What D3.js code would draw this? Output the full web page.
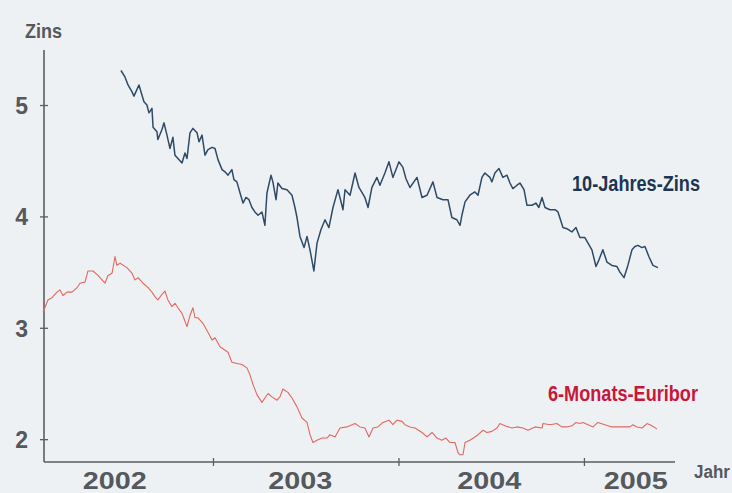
<!DOCTYPE html>
<html>
<head>
<meta charset="utf-8">
<script src="https://cdn.jsdelivr.net/npm/d3@7"></script>
<style>
  html, body { margin: 0; padding: 0; background: #eef1f4; }
  svg { display: block; }
  text { font-family: "Liberation Sans", Arial, sans-serif; font-weight: bold; }
</style>
</head>
<body>
<svg id="chart" width="732" height="493"></svg>
<script>
// ---- data (decimal years, percent) ----
const tenYearDates = [2002.504,2002.526,2002.542,2002.563,2002.574,2002.585,2002.601,2002.617,2002.628,2002.644,2002.655,2002.671,2002.677,2002.698,2002.703,2002.725,2002.736,2002.752,2002.768,2002.784,2002.795,2002.811,2002.833,2002.849,2002.860,2002.876,2002.892,2002.914,2002.925,2002.941,2002.957,2002.973,2002.995,2003.011,2003.027,2003.049,2003.065,2003.081,2003.102,2003.113,2003.129,2003.146,2003.162,2003.178,2003.194,2003.210,2003.226,2003.243,2003.264,2003.280,2003.291,2003.313,2003.323,2003.340,2003.350,2003.372,2003.399,2003.426,2003.442,2003.453,2003.469,2003.491,2003.507,2003.523,2003.544,2003.561,2003.582,2003.604,2003.625,2003.647,2003.674,2003.701,2003.712,2003.739,2003.766,2003.787,2003.819,2003.836,2003.857,2003.884,2003.900,2003.927,2003.949,2003.970,2004.003,2004.024,2004.040,2004.062,2004.100,2004.127,2004.154,2004.186,2004.208,2004.240,2004.267,2004.288,2004.315,2004.332,2004.342,2004.359,2004.385,2004.412,2004.429,2004.450,2004.466,2004.493,2004.504,2004.520,2004.542,2004.563,2004.585,2004.601,2004.617,2004.639,2004.655,2004.677,2004.693,2004.720,2004.741,2004.757,2004.774,2004.790,2004.817,2004.844,2004.860,2004.887,2004.908,2004.935,2004.957,2004.978,2005.005,2005.022,2005.043,2005.065,2005.081,2005.102,2005.124,2005.151,2005.178,2005.194,2005.216,2005.237,2005.259,2005.275,2005.291,2005.313,2005.329,2005.350,2005.372,2005.399];
const tenYearValues = [5.31,5.25,5.18,5.12,5.08,5.12,5.18,5.09,5.03,5.00,4.93,4.97,4.80,4.76,4.69,4.78,4.84,4.73,4.61,4.71,4.55,4.52,4.48,4.57,4.52,4.75,4.79,4.75,4.67,4.73,4.55,4.60,4.62,4.61,4.51,4.42,4.40,4.37,4.42,4.33,4.31,4.21,4.12,4.17,4.15,4.08,4.04,4.01,4.04,3.92,4.21,4.37,4.31,4.15,4.30,4.25,4.24,4.19,4.08,3.99,3.82,3.72,3.82,3.70,3.51,3.76,3.88,3.97,3.90,4.08,4.24,4.06,4.24,4.19,4.39,4.26,4.17,4.08,4.26,4.35,4.28,4.39,4.49,4.35,4.49,4.44,4.34,4.26,4.35,4.17,4.19,4.31,4.17,4.15,4.15,3.99,3.97,3.92,4.01,4.13,4.19,4.22,4.19,4.35,4.39,4.35,4.31,4.39,4.43,4.35,4.37,4.30,4.25,4.28,4.30,4.24,4.10,4.10,4.12,4.08,4.17,4.08,4.06,4.06,4.04,3.90,3.89,3.86,3.90,3.81,3.81,3.76,3.70,3.55,3.61,3.70,3.59,3.56,3.55,3.50,3.45,3.56,3.70,3.73,3.74,3.72,3.73,3.64,3.56,3.54];

const euriborDates = [2002.084,2002.110,2002.132,2002.159,2002.175,2002.191,2002.213,2002.240,2002.267,2002.283,2002.310,2002.326,2002.353,2002.380,2002.418,2002.434,2002.456,2002.472,2002.482,2002.499,2002.536,2002.563,2002.580,2002.596,2002.623,2002.650,2002.671,2002.687,2002.703,2002.730,2002.741,2002.757,2002.779,2002.795,2002.811,2002.833,2002.860,2002.876,2002.892,2002.903,2002.919,2002.946,2002.973,2002.995,2003.011,2003.038,2003.081,2003.102,2003.129,2003.156,2003.183,2003.199,2003.216,2003.237,2003.264,2003.280,2003.297,2003.318,2003.345,2003.361,2003.377,2003.404,2003.426,2003.453,2003.480,2003.507,2003.523,2003.539,2003.561,2003.588,2003.615,2003.631,2003.658,2003.685,2003.722,2003.766,2003.792,2003.819,2003.841,2003.863,2003.889,2003.916,2003.949,2003.970,2003.992,2004.019,2004.035,2004.062,2004.089,2004.127,2004.154,2004.181,2004.208,2004.234,2004.256,2004.278,2004.305,2004.321,2004.332,2004.348,2004.359,2004.385,2004.412,2004.429,2004.456,2004.477,2004.504,2004.531,2004.547,2004.574,2004.612,2004.639,2004.671,2004.698,2004.736,2004.774,2004.779,2004.817,2004.854,2004.881,2004.908,2004.935,2004.957,2004.978,2004.995,2005.022,2005.049,2005.075,2005.113,2005.151,2005.178,2005.210,2005.248,2005.264,2005.286,2005.313,2005.340,2005.356,2005.377,2005.394];
const euriborValues = [3.14,3.25,3.27,3.32,3.34,3.29,3.32,3.32,3.36,3.40,3.41,3.51,3.51,3.47,3.40,3.47,3.49,3.64,3.56,3.58,3.54,3.49,3.43,3.45,3.40,3.36,3.32,3.28,3.25,3.31,3.33,3.25,3.19,3.22,3.18,3.13,3.01,3.11,3.18,3.09,3.09,3.04,2.96,2.89,2.91,2.83,2.78,2.69,2.68,2.67,2.64,2.58,2.49,2.40,2.33,2.37,2.41,2.38,2.35,2.38,2.45,2.42,2.37,2.29,2.19,2.15,2.04,1.97,1.99,2.01,2.01,2.04,2.02,2.10,2.11,2.14,2.11,2.10,2.02,2.10,2.11,2.15,2.17,2.13,2.17,2.16,2.13,2.11,2.10,2.06,2.02,2.06,2.01,1.99,2.01,1.97,1.97,1.88,1.86,1.86,1.97,1.99,2.02,2.04,2.08,2.06,2.07,2.10,2.14,2.12,2.10,2.11,2.10,2.08,2.11,2.10,2.14,2.13,2.14,2.11,2.11,2.12,2.15,2.14,2.15,2.13,2.11,2.15,2.13,2.11,2.11,2.11,2.11,2.13,2.11,2.10,2.14,2.13,2.11,2.09];

const yTicks = [2, 3, 4, 5];
const xTicks = [2003, 2004, 2005];
const yearLabels = ["2002", "2003", "2004", "2005"];
const yearLabelPos = [2002.47, 2003.47, 2004.49, 2005.28];
const seriesNames = ["10-Jahres-Zins", "6-Monats-Euribor"];

// ---- drawing ----
const svg = d3.select("#chart");
const x = d3.scaleLinear().domain([2002.089, 2005.491]).range([44, 675]);
const y = d3.scaleLinear().domain([1.795, 5.494]).range([462, 50]);
const axisColor = "#5a5d61";

// y axis
const yAxis = svg.append("g").attr("transform", "translate(44,0)")
  .call(d3.axisLeft(y).tickValues(yTicks).tickSize(4).tickPadding(12).tickFormat(d3.format("d")));
yAxis.select(".domain").attr("stroke", axisColor).attr("stroke-width", 1.6).attr("d", "M0," + y.range()[0] + "V" + y.range()[1]);
yAxis.selectAll(".tick line").attr("stroke", axisColor).attr("stroke-width", 1.3).attr("x1", -4).attr("x2", 4);
yAxis.selectAll(".tick text").attr("fill", "#55585c")
  .style("font-family", "'Liberation Sans', Arial, sans-serif")
  .style("font-size", "23px").style("font-weight", "bold").attr("dy", "0.36em");

// x axis
const xAxis = svg.append("g").attr("transform", "translate(0,462)")
  .call(d3.axisBottom(x).tickValues(xTicks).tickSize(4).tickFormat(""));
xAxis.select(".domain").attr("stroke", axisColor).attr("stroke-width", 1.6).attr("d", "M" + x.range()[0] + ",0H" + x.range()[1]);
xAxis.selectAll(".tick line").attr("stroke", axisColor).attr("stroke-width", 1.3).attr("y1", -4).attr("y2", 4);

// year labels
svg.append("g").selectAll("text").data(yearLabels).join("text")
  .attr("x", (d, i) => x(yearLabelPos[i]) - 32).attr("y", 489)
  .attr("fill", "#55585c")
  .attr("textLength", 64).attr("lengthAdjust", "spacingAndGlyphs")
  .style("font-size", "24px")
  .text(d => d);

// axis titles
svg.append("text").attr("x", 25).attr("y", 38).attr("fill", "#55585c")
  .attr("textLength", 37).attr("lengthAdjust", "spacingAndGlyphs").style("font-size", "21px").text("Zins");
svg.append("text").attr("x", 694).attr("y", 478).attr("fill", "#55585c")
  .attr("textLength", 36).attr("lengthAdjust", "spacingAndGlyphs").style("font-size", "18px").text("Jahr");

// lines
const line = d3.line().x(d => x(d[0])).y(d => y(d[1]));
const tenYear = tenYearDates.map((d, i) => [d, tenYearValues[i]]);
const euribor = euriborDates.map((d, i) => [d, euriborValues[i]]);

svg.append("path").datum(euribor).attr("d", line)
  .attr("fill", "none").attr("stroke", "#e2675f").attr("stroke-width", 1.1).attr("stroke-linejoin", "round");
svg.append("path").datum(tenYear).attr("d", line)
  .attr("fill", "none").attr("stroke", "#2e4a66").attr("stroke-width", 1.5).attr("stroke-linejoin", "round");

// series labels
svg.append("text").attr("x", 572).attr("y", 191).attr("fill", "#1b3552")
  .attr("textLength", 128).attr("lengthAdjust", "spacingAndGlyphs").style("font-size", "22px").text(seriesNames[0]);
svg.append("text").attr("x", 548).attr("y", 401).attr("fill", "#c8173a")
  .attr("textLength", 150).attr("lengthAdjust", "spacingAndGlyphs").style("font-size", "22px").text(seriesNames[1]);
</script>
</body>
</html>
